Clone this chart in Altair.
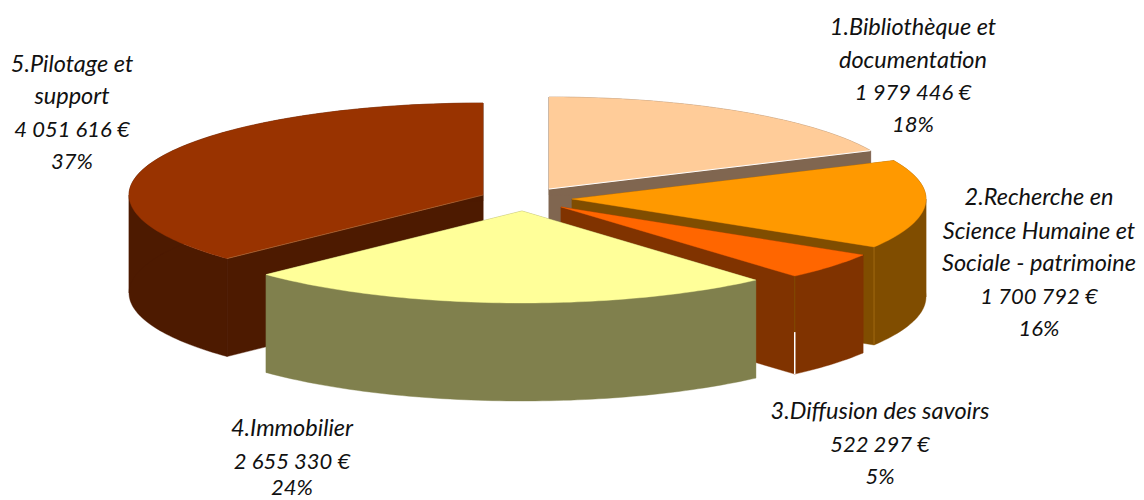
import math
import altair as alt
import pandas as pd

names = ["1", "2", "3", "4", "5"]
values = [1979446, 1700792, 522297, 2655330, 4051616]
top_colors = ["#FFCC99", "#FF9900", "#FF6600", "#FFFF99", "#993300"]
side_colors = ["#806650", "#804D00", "#803300", "#80804D", "#4D1A00"]
label_lines = [
    ["1.Bibliothèque et", "documentation", "1 979 446 €", "18%"],
    ["2.Recherche en", "Science Humaine et", "Sociale - patrimoine", "1 700 792 €", "16%"],
    ["3.Diffusion des savoirs", "522 297 €", "5%"],
    ["4.Immobilier", "2 655 330 €", "24%"],
    ["5.Pilotage et", "support", "4 051 616 €", "37%"],
]

# Layout of the exploded pie, in page pixels
RX, RY, DEPTH = 354, 92, 98
APEX = {"1": (549, 189), "2": (572, 199), "3": (561, 207), "4": (522, 211), "5": (483, 195)}
LABEL_POS = {
    "1": (913, [28, 61, 93, 125]),
    "2": (1039, [198, 232, 264, 297, 329]),
    "3": (880, [412, 445, 477]),
    "4": (292, [429, 462, 488]),
    "5": (72, [65, 97, 130, 162]),
}
DRAW_ORDER = ["1", "5", "2", "3", "4"]
TOTAL = sum(values)

angles = {}
cum = 0.0
for n, v in zip(names, values):
    angles[n] = (cum / TOTAL * 2 * math.pi, (cum + v) / TOTAL * 2 * math.pi)
    cum += v


def rim(n, a, drop=0.0):
    ax, ay = APEX[n]
    return ax + RX * math.sin(a), ay - RY * math.cos(a) + drop


def arc_pts(n, a0, a1, drop=0.0):
    steps = max(8, int((a1 - a0) / 0.02))
    return [rim(n, a0 + (a1 - a0) * i / steps, drop) for i in range(steps + 1)]


rows = []
poly = 0


def add_poly(pts, color):
    global poly
    poly += 1
    for i, (x, y) in enumerate(pts + pts[:1]):
        rows.append({"x": x, "y": y, "i": i, "poly": poly, "col": color})


for n in DRAW_ORDER:
    idx = names.index(n)
    side = side_colors[idx]
    ax, ay = APEX[n]
    a0, a1 = angles[n]
    for a in (a0, a1):
        rx_, ry_ = rim(n, a)
        add_poly([(ax, ay), (rx_, ry_), (rx_, ry_ + DEPTH), (ax, ay + DEPTH)], side)
    # the rim is split where the ellipse turns, so each piece is a simple polygon
    cuts = [a0] + [c for c in (math.pi / 2, 3 * math.pi / 2) if a0 < c < a1] + [a1]
    for s, e in zip(cuts[:-1], cuts[1:]):
        add_poly(arc_pts(n, s, e) + arc_pts(n, s, e, DEPTH)[::-1], side)
    add_poly([(ax, ay)] + arc_pts(n, a0, a1), top_colors[idx])

polys = pd.DataFrame(rows)

# seams between faces
seam_rows = []


def add_seam(sid, p, q, color, w):
    seam_rows.append({"x": p[0], "y": p[1], "i": 0, "sid": sid, "col": color, "w": w})
    seam_rows.append({"x": q[0], "y": q[1], "i": 1, "sid": sid, "col": color, "w": w})


e1 = rim("1", angles["1"][1])
add_seam(1, APEX["1"], e1, "#FFFFFF", 1.0)
e2 = rim("2", angles["2"][1])
add_seam(2, e2, (e2[0], e2[1] + DEPTH), "#A06A10", 1.0)
e3 = rim("3", angles["3"][1])
add_seam(3, e3, (e3[0], e3[1] + 56), "#804D00", 1.0)
add_seam(4, (e3[0], e3[1] + 56), (e3[0], e3[1] + DEPTH), "#FFFFFF", 1.5)
e5 = rim("5", angles["5"][0])
add_seam(5, APEX["5"], e5, "#B0703A", 0.6)
seams = pd.DataFrame(seam_rows)

text_rows = []
for n, lines in zip(names, label_lines):
    cx, ys = LABEL_POS[n]
    for line, y in zip(lines, ys):
        numeric = line[0].isdigit() and "." not in line
        text_rows.append({"x": cx, "y": y, "t": line, "fs": 22 if numeric else 23.5})
texts = pd.DataFrame(text_rows)

X = alt.X("x:Q", scale=alt.Scale(domain=[8, 1136]), axis=None)
Y = alt.Y("y:Q", scale=alt.Scale(domain=[500, 8]), axis=None)

faces = alt.Chart(polys).mark_line(strokeWidth=0.4, interpolate="linear", clip=False).encode(
    x=X, y=Y,
    order="i:Q",
    detail="poly:N",
    fill=alt.Fill("col:N", scale=None, legend=None),
    stroke=alt.Stroke("col:N", scale=None, legend=None),
)

seam_layer = alt.Chart(seams).mark_line().encode(
    x=X, y=Y,
    order="i:Q",
    detail="sid:N",
    stroke=alt.Stroke("col:N", scale=None, legend=None),
    strokeWidth=alt.StrokeWidth("w:Q", scale=None, legend=None),
)

text_layer = alt.Chart(texts).mark_text(
    font="Lato", fontStyle="italic", color="#111111", align="center", baseline="middle"
).encode(x=X, y=Y, text="t:N", size=alt.Size("fs:Q", scale=None, legend=None))

chart = (
    alt.layer(faces, seam_layer, text_layer)
    .properties(width=1128, height=492, padding=0, autosize=alt.AutoSizeParams(type="none"))
    .configure_view(stroke=None)
)

chart.save("out.html", embed_options={"renderer": "svg", "actions": False})
